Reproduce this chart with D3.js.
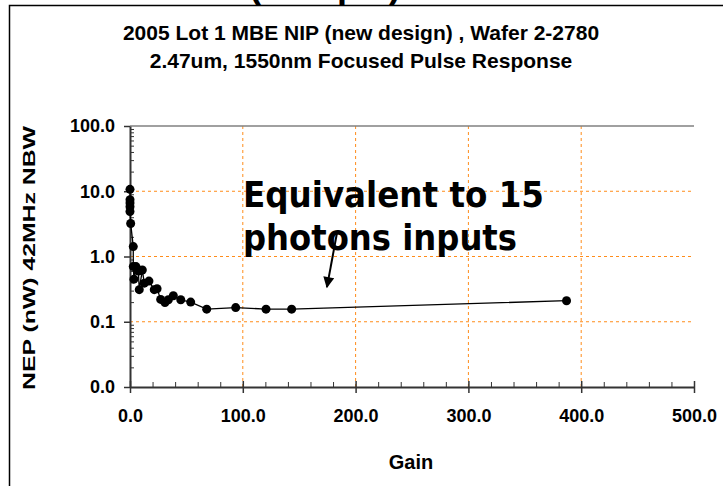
<!DOCTYPE html>
<html>
<head>
<meta charset="utf-8">
<script src="https://cdn.jsdelivr.net/npm/d3@7"></script>
<style>
  body { margin: 0; background: #fff; }
  svg text { font-family: "Liberation Sans", Arial, sans-serif; font-weight: bold; fill: #000; }
</style>
</head>
<body>
<svg id="chart" width="723" height="486"></svg>
<script>
// data
const gain = [0, 0, 0, 0, 0, 0.6, 2.9, 2.9, 3.5, 5.3, 7.4, 8.2, 10.9, 12.7, 16.8, 21.5, 24, 27.2, 31, 34, 38.4, 45, 53.8, 68, 93.7, 120.6, 143.3, 387];
const nep = [10.7, 7.4, 6.6, 5.8, 4.9, 3.2, 1.42, 0.70, 0.45, 0.70, 0.60, 0.31, 0.62, 0.39, 0.42, 0.31, 0.32, 0.22, 0.197, 0.217, 0.25, 0.217, 0.20, 0.156, 0.165, 0.156, 0.156, 0.21];

const xTicks = [0, 100, 200, 300, 400, 500];
const yTicks = [0.01, 0.1, 1, 10, 100];
const titleLines = ["2005 Lot 1 MBE NIP (new design) , Wafer 2-2780", "2.47um, 1550nm Focused Pulse Response"];
const yLabel = "NEP (nW) 42MHz NBW";
const xLabel = "Gain";
const noteLines = ["Equivalent to 15", "photons inputs"];
const arrowFrom = [183.5, 2.3];
const arrowTo = [174.6, 0.34];

const svg = d3.select("#chart");

const x = d3.scaleLinear().domain([0, 500]).range([130, 694]);
const y = d3.scaleLog().domain([0.01, 100]).range([387, 126]);
const fmt = d3.format(".1f");

// outer frame and the clipped heading above it
svg.append("text")
    .attr("x", 325).attr("y", -3)
    .attr("text-anchor", "middle")
    .style("font-size", "36px")
    .text("(Sample)");
svg.append("rect")
    .attr("x", 9.5).attr("y", 5.5)
    .attr("width", 800).attr("height", 600)
    .attr("fill", "none").attr("stroke", "#000").attr("stroke-width", 1.5);

svg.selectAll("text.title")
    .data(titleLines)
    .enter().append("text")
    .attr("class", "title")
    .attr("x", 361)
    .attr("y", (d, i) => 40 + i * 28)
    .attr("text-anchor", "middle")
    .style("font-size", "21px")
    .text(d => d);

// grid
svg.selectAll("line.vgrid")
    .data(xTicks.filter(d => d > 0 && d < 500))
    .enter().append("line")
    .attr("x1", d => x(d)).attr("x2", d => x(d))
    .attr("y1", y(100)).attr("y2", y(0.01))
    .attr("stroke", "#ff8c1a").attr("stroke-dasharray", "3,3");

svg.selectAll("line.hgrid")
    .data(yTicks.filter(d => d > 0.01 && d < 100))
    .enter().append("line")
    .attr("x1", x(0)).attr("x2", x(500))
    .attr("y1", d => y(d)).attr("y2", d => y(d))
    .attr("stroke", "#ff8c1a").attr("stroke-dasharray", "3,3");

svg.append("line")
    .attr("x1", x(0)).attr("x2", x(500))
    .attr("y1", y(100)).attr("y2", y(100))
    .attr("stroke", "#808080").attr("stroke-width", 1.5);

// minor ticks
let yMinor = [];
yTicks.slice(0, -1).forEach(d => { for (let k = 2; k < 10; k++) yMinor.push(d * k); });
let xMinor = d3.range(20, 500, 20).filter(d => d % 100 !== 0);

svg.append("g")
    .attr("transform", `translate(${x(0)},0)`)
    .call(d3.axisRight(y).tickValues(yMinor).tickSize(4).tickFormat(""))
    .call(g => g.select(".domain").remove())
    .selectAll("line").attr("stroke", "#333");

svg.append("g")
    .attr("transform", `translate(0,${y(0.01)})`)
    .call(d3.axisTop(x).tickValues(xMinor).tickSize(5).tickFormat(""))
    .call(g => g.select(".domain").remove())
    .selectAll("line").attr("stroke", "#333");

// main axes
let yAxis = svg.append("g")
    .attr("transform", `translate(${x(0)},0)`)
    .call(d3.axisLeft(y).tickValues(yTicks).tickSize(6).tickSizeOuter(0).tickPadding(9).tickFormat(fmt));
yAxis.select(".domain").attr("stroke", "#333").attr("stroke-width", 2);
yAxis.selectAll("line").attr("stroke", "#333").attr("stroke-width", 1.5);
yAxis.selectAll("text").style("font-size", "18px").attr("font-family", null);

let xAxis = svg.append("g")
    .attr("transform", `translate(0,${y(0.01)})`)
    .call(d3.axisBottom(x).tickValues(xTicks).tickSize(6).tickSizeOuter(0).tickPadding(16).tickFormat(fmt));
xAxis.select(".domain").attr("stroke", "#333").attr("stroke-width", 2);
xAxis.selectAll("line").attr("stroke", "#333").attr("stroke-width", 1.5).attr("y1", -6);
xAxis.selectAll("text").style("font-size", "18px").attr("font-family", null);

// axis titles
svg.append("text")
    .attr("transform", "translate(35,258) rotate(-90)")
    .attr("text-anchor", "middle")
    .attr("textLength", 264).attr("lengthAdjust", "spacingAndGlyphs")
    .style("font-size", "16px")
    .text(yLabel);

svg.append("text")
    .attr("x", 411).attr("y", 469)
    .attr("text-anchor", "middle")
    .style("font-size", "20px")
    .text(xLabel);

// series
const pts = gain.map((g, i) => [g, nep[i]]);
svg.append("path")
    .datum(pts)
    .attr("fill", "none").attr("stroke", "#000").attr("stroke-width", 1.3)
    .attr("d", d3.line().x(d => x(d[0])).y(d => y(d[1])));

svg.selectAll("circle.pt")
    .data(pts)
    .enter().append("circle")
    .attr("cx", d => x(d[0])).attr("cy", d => y(d[1]))
    .attr("r", 4.5).attr("fill", "#000");

// annotation
svg.selectAll("text.note")
    .data(noteLines)
    .enter().append("text")
    .attr("x", 243)
    .attr("y", (d, i) => 207 + i * 43)
    .attr("textLength", (d, i) => i === 0 ? 301 : 274)
    .attr("lengthAdjust", "spacingAndGlyphs")
    .style("font-family", "'DejaVu Sans', Verdana, sans-serif")
    .style("font-size", "35px")
    .text(d => d);

svg.append("defs").append("marker")
    .attr("id", "head")
    .attr("viewBox", "0 0 10 10")
    .attr("refX", 9).attr("refY", 5)
    .attr("markerWidth", 7).attr("markerHeight", 5.5)
    .attr("orient", "auto")
    .append("path").attr("d", "M0,0L10,5L0,10Z").attr("fill", "#000");

svg.append("line")
    .attr("x1", x(arrowFrom[0])).attr("y1", y(arrowFrom[1]))
    .attr("x2", x(arrowTo[0])).attr("y2", y(arrowTo[1]))
    .attr("stroke", "#000").attr("stroke-width", 2)
    .attr("marker-end", "url(#head)");
</script>
</body>
</html>
